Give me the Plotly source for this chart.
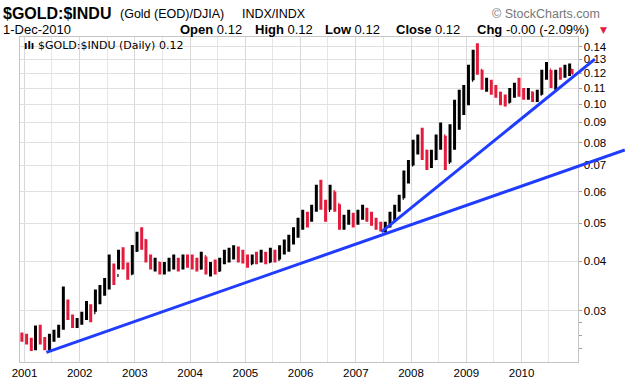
import math
import pandas as pd
import plotly.graph_objects as go

# ---------------- data ----------------
bar_dates = [f"{y}-{m:02d}-15" for y in range(2000, 2011) for m in range(1, 13)
             if (y, m) >= (2000, 12) and (y, m) <= (2010, 11)] + ["2010-12-01"]

highs = [0.0264,
         0.0262, 0.0256, 0.0275, 0.0276, 0.0257, 0.0262, 0.0268, 0.0276, 0.0345, 0.0320, 0.0293, 0.0287,
         0.0298, 0.0317, 0.0311, 0.0339, 0.0348, 0.0363, 0.0416, 0.0395, 0.0428, 0.0434, 0.0397, 0.0440,
         0.0475, 0.0488, 0.0455, 0.0416, 0.0408, 0.0398, 0.0398, 0.0408, 0.0416, 0.0408, 0.0416, 0.0416,
         0.0416, 0.0408, 0.0423, 0.0411, 0.0398, 0.0404, 0.0408, 0.0428, 0.0433, 0.0439, 0.0436, 0.0428,
         0.0416, 0.0416, 0.0423, 0.0428, 0.0423, 0.0433, 0.0428, 0.0439, 0.0454, 0.0467, 0.0488, 0.0516,
         0.0540, 0.0534, 0.0556, 0.0625, 0.0644, 0.0573, 0.0625, 0.0601, 0.0558, 0.0525, 0.0540, 0.0531,
         0.0540, 0.0556, 0.0547, 0.0534, 0.0516, 0.0504, 0.0504, 0.0534, 0.0556, 0.0590, 0.0680, 0.0723,
         0.0813, 0.0838, 0.0872, 0.0767, 0.0767, 0.0838, 0.0900, 0.0832, 0.0890, 0.1027, 0.1089, 0.1120,
         0.1260, 0.1375, 0.1428, 0.1224, 0.1168, 0.1154, 0.1120, 0.1076, 0.1060, 0.1100, 0.1134, 0.1168,
         0.1100, 0.1100, 0.1076, 0.1089, 0.1224, 0.1280, 0.1222, 0.1224, 0.1240, 0.1260, 0.1270, 0.1230]

lows = [0.0250,
        0.0246, 0.0237, 0.0238, 0.0246, 0.0238, 0.0238, 0.0250, 0.0256, 0.0268, 0.0284, 0.0271, 0.0271,
        0.0276, 0.0284, 0.0280, 0.0298, 0.0311, 0.0327, 0.0339, 0.0348, 0.0381, 0.0381, 0.0359, 0.0370,
        0.0423, 0.0428, 0.0397, 0.0381, 0.0377, 0.0370, 0.0370, 0.0377, 0.0381, 0.0377, 0.0381, 0.0385,
        0.0381, 0.0377, 0.0381, 0.0370, 0.0366, 0.0370, 0.0377, 0.0393, 0.0397, 0.0404, 0.0397, 0.0395,
        0.0385, 0.0393, 0.0393, 0.0397, 0.0393, 0.0397, 0.0397, 0.0404, 0.0416, 0.0423, 0.0441, 0.0459,
        0.0481, 0.0487, 0.0504, 0.0534, 0.0540, 0.0504, 0.0540, 0.0534, 0.0481, 0.0481, 0.0495, 0.0487,
        0.0495, 0.0510, 0.0504, 0.0492, 0.0481, 0.0476, 0.0473, 0.0487, 0.0510, 0.0534, 0.0578, 0.0630,
        0.0700, 0.0746, 0.0723, 0.0682, 0.0690, 0.0723, 0.0767, 0.0682, 0.0712, 0.0767, 0.0862, 0.0940,
        0.0995, 0.1152, 0.1189, 0.1089, 0.1076, 0.1058, 0.1040, 0.0995, 0.0988, 0.1010, 0.1040, 0.1046,
        0.1027, 0.1027, 0.1014, 0.1014, 0.1058, 0.1154, 0.1100, 0.1089, 0.1154, 0.1168, 0.1180, 0.1195]

closes = [0.0256,
          0.0250, 0.0241, 0.0268, 0.0252, 0.0244, 0.0256, 0.0262, 0.0271, 0.0312, 0.0290, 0.0277, 0.0281,
          0.0291, 0.0302, 0.0296, 0.0326, 0.0336, 0.0355, 0.0386, 0.0368, 0.0414, 0.0390, 0.0372, 0.0426,
          0.0456, 0.0452, 0.0410, 0.0389, 0.0396, 0.0381, 0.0387, 0.0396, 0.0402, 0.0389, 0.0406, 0.0399,
          0.0390, 0.0384, 0.0411, 0.0374, 0.0381, 0.0379, 0.0397, 0.0411, 0.0416, 0.0426, 0.0419, 0.0404,
          0.0394, 0.0406, 0.0403, 0.0416, 0.0399, 0.0411, 0.0404, 0.0421, 0.0446, 0.0449, 0.0471, 0.0504,
          0.0521, 0.0509, 0.0541, 0.0592, 0.0568, 0.0538, 0.0601, 0.0558, 0.0494, 0.0502, 0.0526, 0.0504,
          0.0519, 0.0541, 0.0524, 0.0503, 0.0489, 0.0484, 0.0491, 0.0511, 0.0546, 0.0578, 0.0638, 0.0702,
          0.0781, 0.0822, 0.0762, 0.0701, 0.0728, 0.0821, 0.0832, 0.0712, 0.0831, 0.0902, 0.0962, 0.1003,
          0.1152, 0.1352, 0.1221, 0.1103, 0.1131, 0.1098, 0.1068, 0.1021, 0.1012, 0.1062, 0.1101, 0.1059,
          0.1051, 0.1072, 0.1031, 0.1061, 0.1182, 0.1222, 0.1131, 0.1201, 0.1192, 0.1221, 0.1223, 0.1200]

first_open = 0.0258
opens = [first_open] + closes[:-1]

trend1_dates = ["2001-05-26", "2011-11-15"]
trend1_vals = [0.0235, 0.0766]
trend2_dates = ["2007-06-20", "2011-05-01"]
trend2_vals = [0.0475, 0.1302]

x_tick_vals = [f"{y}-01-01" for y in range(2001, 2011)]
x_tick_text = ["2001", "2002", "2003", "2004", "2005", "2006", "2007", "2008", "2009", "2010"]
y_tick_vals = [0.03, 0.04, 0.05, 0.06, 0.07, 0.08, 0.09, 0.10, 0.11, 0.12, 0.13, 0.14]
y_tick_text = ["0.03", "0.04", "0.05", "0.06", "0.07", "0.08", "0.09", "0.10", "0.11", "0.12", "0.13", "0.14"]
y_minor_vals = [0.024, 0.026, 0.028]

# ---------------- layout geometry (page pixels; body margin removed by post_script) ----------------
W, H = 625, 382
PL, PR, PT, PB = 19.5, 577.5, 37, 362


def px_x(px):
    return px / W


def px_y(py):
    return 1 - py / H


xdom = [px_x(PL), px_x(PR)]
ydom = [px_y(PB), px_y(PT)]
x_range = ["2000-11-29", "2011-01-06"]
y_range = [math.log10(0.02221), math.log10(0.1482)]

t0, t1 = pd.Timestamp(x_range[0]), pd.Timestamp(x_range[1])
per_px = (t1 - t0) / (PR - PL)
x2_range = [(t0 - per_px * PL).isoformat(), (t1 + per_px * (W - PR)).isoformat()]

RED = "#e31b3d"
BLUE = "#1f3cff"
FONT = "Liberation Sans, Arial, sans-serif"

fig = go.Figure()
fig.add_trace(go.Ohlc(
    x=bar_dates, open=opens, high=highs, low=lows, close=closes,
    increasing=dict(line=dict(color="black", width=3)),
    decreasing=dict(line=dict(color=RED, width=3)),
    tickwidth=0.5, xaxis="x", yaxis="y", showlegend=False, hoverinfo="skip"))

for d, v in ((trend1_dates, trend1_vals), (trend2_dates, trend2_vals)):
    fig.add_trace(go.Scatter(x=d, y=v, mode="lines", line=dict(color=BLUE, width=3),
                             xaxis="x2", yaxis="y2", showlegend=False, hoverinfo="skip"))


def ann(text, px, py, size, anchor="left", color="black", family=FONT):
    return dict(text=text, x=px_x(px), y=px_y(py), xref="paper", yref="paper",
                xanchor=anchor, yanchor="middle", showarrow=False,
                font=dict(size=size, color=color, family=family))


annotations = [
    ann("<b>$GOLD:$INDU</b>", 1, 13, 16),
    ann("(Gold (EOD)/DJIA)", 118, 14, 12.5),
    ann("INDX/INDX", 240, 14, 12.5),
    ann("© StockCharts.com", 602, 14, 12.5, anchor="right", color="#777777"),
    ann("1-Dec-2010", 1, 29, 13),
    ann("<b>Open</b> 0.12", 178, 29, 13),
    ann("<b>High</b> 0.12", 253, 29, 13),
    ann("<b>Low</b> 0.12", 323, 29, 13),
    ann("<b>Close</b> 0.12", 394, 29, 13),
    ann("<b>Chg</b> -0.00 (-2.09%)", 475, 29, 13),
    ann("▼", 598, 30, 9, color=RED, family="DejaVu Sans"),
    ann("$GOLD:$INDU (Daily) 0.12", 36, 46, 11, family="DejaVu Sans"),
    ann("<b>ılı</b>", 22, 46, 10, family="DejaVu Sans"),
]

fig.update_layout(
    width=W, height=H,
    margin=dict(l=0, r=0, t=0, b=0),
    paper_bgcolor="white", plot_bgcolor="rgba(0,0,0,0)",
    showlegend=False,
    annotations=annotations,
    xaxis=dict(domain=xdom, type="date", range=x_range, anchor="y",
               tickmode="array", tickvals=x_tick_vals, ticktext=x_tick_text,
               ticks="", ticklen=0, showgrid=True, gridcolor="#d9d9d9", gridwidth=1,
               minor=dict(dtick="M6", tick0="2001-01-01", showgrid=True, gridcolor="#e6e6e6", ticks=""),
               showline=True, linecolor="#c4c4c4", linewidth=1, mirror=True,
               tickfont=dict(family=FONT, size=11.5, color="black"),
               rangeslider=dict(visible=False), automargin=False, zeroline=False),
    yaxis=dict(domain=ydom, type="log", range=y_range, anchor="x", side="right",
               tickmode="array", tickvals=y_tick_vals, ticktext=y_tick_text,
               ticks="outside", ticklen=3, tickcolor="#a0a0a0",
               minor=dict(tickmode="array", tickvals=y_minor_vals, ticks="outside",
                          ticklen=3, tickcolor="#a0a0a0", showgrid=False),
               showgrid=True, gridcolor="#e0e0e0", gridwidth=1,
               showline=True, linecolor="#c4c4c4", linewidth=1, mirror=True,
               tickfont=dict(family=FONT, size=11.5, color="black"),
               automargin=False, zeroline=False),
    xaxis2=dict(domain=[0, 1], type="date", range=x2_range, anchor="y2", visible=False,
                showgrid=False, fixedrange=True),
    yaxis2=dict(domain=ydom, type="log", range=y_range, anchor="x2", visible=False,
                showgrid=False, fixedrange=True),
)

fig.write_html("out.html", config={"displayModeBar": False},
               post_script="document.body.style.margin='0';document.body.style.overflow='hidden';")
